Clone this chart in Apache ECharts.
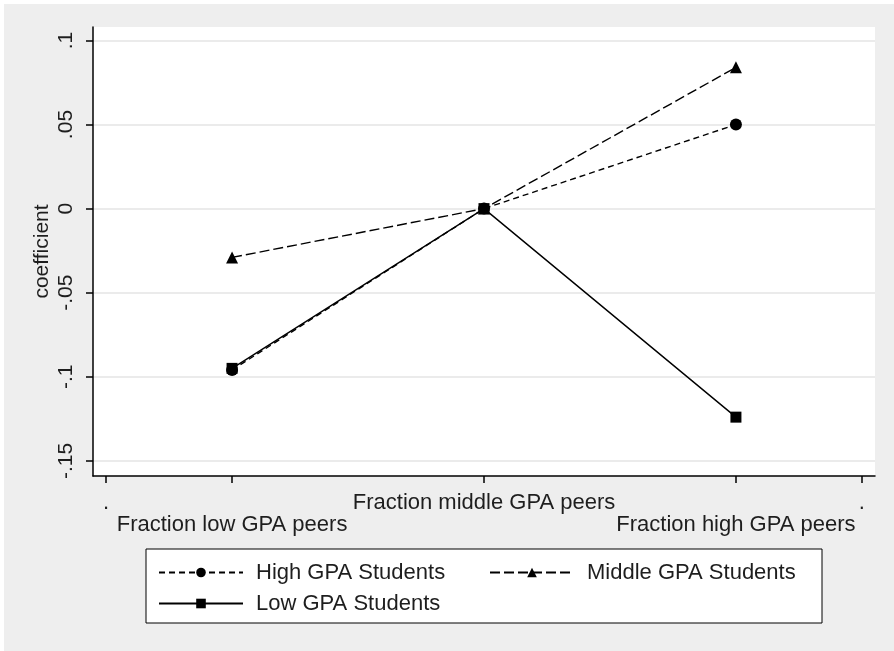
<!DOCTYPE html>
<html>
<head>
<meta charset="utf-8">
<title>coefficient</title>
<script src="https://cdn.jsdelivr.net/npm/echarts@6/dist/echarts.min.js"></script>
<style>
  body{ margin:0; background:#fff; }
  #chart{ position:absolute; left:4px; top:4px; width:890px; height:647px; }
</style>
</head>
<body>
<div id="chart"></div>
<script>
// x position of each peer group: 1 = low, 2 = middle, 3 = high GPA peers
const peerGroups = [1, 2, 3];
const highGPA = [-0.096, 0, 0.050];
const middleGPA = [-0.029, 0, 0.084];
const lowGPA = [-0.095, 0, -0.124];

const xTicks = [0.5, 1, 2, 3, 3.5];
const xTickLabels = ['.', 'Fraction low GPA peers', 'Fraction middle GPA peers', 'Fraction high GPA peers', '.'];
const yTicks = [-0.15, -0.1, -0.05, 0, 0.05, 0.1];
const yTickLabels = ['-.15', '-.1', '-.05', '0', '.05', '.1'];

const textColor = '#1e1e1e';
const font = 'Liberation Sans, Arial, sans-serif';

function pairs(ys) {
  return peerGroups.map((x, i) => [x, ys[i]]);
}

let option = {
  backgroundColor: '#eeeeee',
  animation: false,
  textStyle: { fontFamily: font },
  grid: {
    left: 89, top: 23, width: 782, height: 449,
    show: true, backgroundColor: '#fff', borderWidth: 0
  },
  legend: {
    left: 142, top: 545,
    width: 655,
    padding: [12, 10, 8, 12],
    backgroundColor: '#fff',
    borderColor: '#000',
    borderWidth: 1,
    borderRadius: 0,
    itemWidth: 84,
    itemHeight: 12,
    itemGap: 8,
    selectedMode: false,
    textStyle: {
      fontSize: 22, color: textColor, fontFamily: font,
      width: 225, lineHeight: 23, padding: [0, 0, 0, 8]
    },
    data: ['High GPA Students', 'Middle GPA Students', 'Low GPA Students']
  },
  xAxis: {
    type: 'value',
    min: 0.448,
    max: 3.552,
    axisLine: { onZero: false, lineStyle: { color: '#000', width: 1.5 } },
    axisTick: { customValues: xTicks, length: 7, lineStyle: { color: '#000', width: 1.5 } },
    axisLabel: {
      customValues: xTicks,
      margin: 16,
      fontSize: 22,
      lineHeight: 22,
      color: textColor,
      fontFamily: font,
      // labels alternate between two rows, like the original
      formatter: function (v) {
        const i = xTicks.indexOf(v);
        return i % 2 === 1 ? '\n' + xTickLabels[i] : xTickLabels[i];
      }
    },
    splitLine: { show: false }
  },
  yAxis: {
    type: 'value',
    min: -0.159,
    max: 0.108,
    name: 'coefficient',
    nameLocation: 'middle',
    nameGap: 40,
    nameMoveOverlap: false,
    nameTextStyle: { fontSize: 21, color: textColor, fontFamily: font },
    axisLine: { show: true, onZero: false, lineStyle: { color: '#000', width: 1.5 } },
    axisTick: { show: true, customValues: yTicks, length: 7, lineStyle: { color: '#000', width: 1.5 } },
    axisLabel: {
      customValues: yTicks,
      rotate: 90,
      margin: 16,
      fontSize: 21,
      color: textColor,
      fontFamily: font,
      formatter: function (v) {
        return yTickLabels[yTicks.indexOf(v)];
      }
    },
    splitLine: { show: true, lineStyle: { color: '#ebebeb', width: 2 } }
  },
  series: [
    {
      name: 'Low GPA Students',
      type: 'line',
      data: pairs(lowGPA),
      symbol: 'rect',
      symbolSize: 11,
      lineStyle: { color: '#000', width: 1.4, type: 'solid' },
      itemStyle: { color: '#000' }
    },
    {
      name: 'High GPA Students',
      type: 'line',
      data: pairs(highGPA),
      symbol: 'circle',
      symbolSize: 12,
      lineStyle: { color: '#000', width: 1.4, type: [6, 4] },
      itemStyle: { color: '#000' }
    },
    {
      name: 'Middle GPA Students',
      type: 'line',
      data: pairs(middleGPA),
      symbol: 'triangle',
      symbolSize: 12,
      lineStyle: { color: '#000', width: 1.4, type: [10, 4] },
      itemStyle: { color: '#000' }
    }
  ]
};

let chart = echarts.init(document.getElementById('chart'));
chart.setOption(option);
</script>
</body>
</html>
